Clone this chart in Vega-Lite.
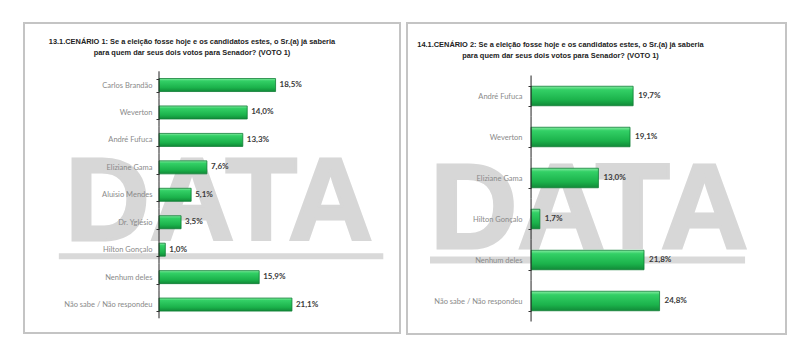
{
  "$schema": "https://vega.github.io/schema/vega-lite/v6.json",
  "padding": {"left": 23, "top": 18, "right": 0, "bottom": 0},
  "background": "white",
  "spacing": 5,
  "config": {
    "locale": {"number": {"decimal": ",", "thousands": ".", "grouping": [3], "currency": ["R$", ""]}},
    "view": {"stroke": "#c4c4c4", "strokeWidth": 2},
    "title": {"font": "Liberation Sans", "fontSize": 7.4, "fontWeight": "bold", "color": "#222222", "lineHeight": 11}
  },
  "datasets": {
    "c1": [
      {"candidato": "Carlos Brandão", "v": 0.185},
      {"candidato": "Weverton", "v": 0.140},
      {"candidato": "André Fufuca", "v": 0.133},
      {"candidato": "Eliziane Gama", "v": 0.076},
      {"candidato": "Aluisio Mendes", "v": 0.051},
      {"candidato": "Dr. Yglésio", "v": 0.035},
      {"candidato": "Hilton Gonçalo", "v": 0.010},
      {"candidato": "Nenhum deles", "v": 0.159},
      {"candidato": "Não sabe / Não respondeu", "v": 0.211}
    ],
    "c2": [
      {"candidato": "André Fufuca", "v": 0.197},
      {"candidato": "Weverton", "v": 0.191},
      {"candidato": "Eliziane Gama", "v": 0.130},
      {"candidato": "Hilton Gonçalo", "v": 0.017},
      {"candidato": "Nenhum deles", "v": 0.218},
      {"candidato": "Não sabe / Não respondeu", "v": 0.248}
    ]
  },
  "hconcat": [
    {
      "width": 376,
      "height": 310,
      "title": {
        "text": ["13.1.CENÁRIO 1: Se a eleição fosse hoje e os candidatos estes, o Sr.(a) já saberia", "para quem dar seus dois votos para Senador? (VOTO 1)"],
        "anchor": "middle", "dx": -20, "offset": -45, "baseline": "bottom"
      },
      "data": {"name": "c1"},
      "encoding": {
        "y": {
          "field": "candidato", "type": "nominal", "sort": null, "title": null,
          "scale": {"domain": ["Carlos Brandão", "Weverton", "André Fufuca", "Eliziane Gama", "Aluisio Mendes", "Dr. Yglésio", "Hilton Gonçalo", "Nenhum deles", "Não sabe / Não respondeu"], "range": [48.3, 295.3], "paddingInner": 0.526, "paddingOuter": 0.263},
          "axis": {"offset": -135, "tickBand": "extent", "domain": false, "ticks": true, "tickSize": 3, "tickColor": "#333333", "tickWidth": 1, "labelPadding": 4, "labelFont": "Lato", "labelFontSize": 7.5, "labelColor": "#8a8a8a", "labelLimit": 200, "zindex": 1, "grid": false}
        }
      },
      "layer": [
        {
          "transform": [{"filter": "datum.candidato === 'Hilton Gonçalo'"}],
          "mark": {"type": "text", "text": "DATA", "font": "Liberation Sans", "fontWeight": "bold", "fontSize": 117, "color": "#d7d7d7", "stroke": "#d7d7d7", "strokeWidth": 3, "align": "center", "baseline": "alphabetic", "dy": -9.5},
          "encoding": {
            "x": {"datum": 0.0952, "type": "quantitative", "axis": null, "scale": {"domain": [-0.2143, 0.3825], "nice": false, "zero": false}}
          }
        },
        {
          "transform": [{"filter": "datum.candidato === 'Hilton Gonçalo'"}],
          "mark": {"type": "rule", "color": "#d9d9d9", "strokeWidth": 6, "yOffset": 6.5},
          "encoding": {
            "x": {"datum": -0.159, "type": "quantitative", "axis": null},
            "x2": {"datum": 0.356}
          }
        },
        {
          "mark": {
            "type": "bar", "stroke": "#0f7d35", "strokeWidth": 0.8,
            "color": {"gradient": "linear", "x1": 0, "y1": 0, "x2": 0, "y2": 1,
              "stops": [{"offset": 0, "color": "#86eba2"}, {"offset": 0.18, "color": "#33d066"}, {"offset": 0.7, "color": "#1bb24b"}, {"offset": 1, "color": "#118a38"}]}
          },
          "encoding": {
            "x": {"field": "v", "type": "quantitative", "axis": null}
          }
        },
        {
          "mark": {"type": "rule", "color": "#222222", "strokeWidth": 1, "yOffset": -13.72, "y2Offset": 13.72},
          "encoding": {
            "x": {"datum": 0, "type": "quantitative", "axis": null},
            "y2": {"field": "candidato"}
          }
        },
        {
          "mark": {"type": "text", "align": "left", "baseline": "middle", "dx": 4, "font": "Lato", "fontWeight": "bold", "fontSize": 8, "color": "#3a3a3a"},
          "encoding": {
            "x": {"field": "v", "type": "quantitative", "axis": null},
            "text": {"field": "v", "type": "quantitative", "format": ".1%"}
          }
        }
      ]
    },
    {
      "width": 379,
      "height": 311,
      "title": {
        "text": ["14.1.CENÁRIO 2: Se a eleição fosse hoje e os candidatos estes, o Sr.(a) já saberia", "para quem dar seus dois votos para Senador? (VOTO 1)"],
        "anchor": "middle", "dx": -36, "offset": -48, "baseline": "bottom"
      },
      "data": {"name": "c2"},
      "encoding": {
        "y": {
          "field": "candidato", "type": "nominal", "sort": null, "title": null,
          "scale": {"domain": ["André Fufuca", "Weverton", "Eliziane Gama", "Hilton Gonçalo", "Nenhum deles", "Não sabe / Não respondeu"], "range": [52.5, 298.5], "paddingInner": 0.524, "paddingOuter": 0.262},
          "axis": {"offset": -124, "tickBand": "extent", "domain": false, "ticks": true, "tickSize": 3, "tickColor": "#333333", "tickWidth": 1, "labelPadding": 6, "labelFont": "Lato", "labelFontSize": 7.5, "labelColor": "#8a8a8a", "labelLimit": 200, "zindex": 1, "grid": false}
        }
      },
      "layer": [
        {
          "transform": [{"filter": "datum.candidato === 'Nenhum deles'"}],
          "mark": {"type": "text", "text": "DATA", "font": "Liberation Sans", "fontWeight": "bold", "fontSize": 121, "color": "#d7d7d7", "stroke": "#d7d7d7", "strokeWidth": 3, "align": "center", "baseline": "alphabetic", "dy": -12},
          "encoding": {
            "x": {"datum": 0.112, "type": "quantitative", "axis": null, "scale": {"domain": [-0.2394, 0.492], "nice": false, "zero": false}}
          }
        },
        {
          "transform": [{"filter": "datum.candidato === 'Nenhum deles'"}],
          "mark": {"type": "rule", "color": "#d9d9d9", "strokeWidth": 7},
          "encoding": {
            "x": {"datum": -0.195, "type": "quantitative", "axis": null},
            "x2": {"datum": 0.413}
          }
        },
        {
          "mark": {
            "type": "bar", "stroke": "#0f7d35", "strokeWidth": 0.8,
            "color": {"gradient": "linear", "x1": 0, "y1": 0, "x2": 0, "y2": 1,
              "stops": [{"offset": 0, "color": "#86eba2"}, {"offset": 0.18, "color": "#33d066"}, {"offset": 0.7, "color": "#1bb24b"}, {"offset": 1, "color": "#118a38"}]}
          },
          "encoding": {
            "x": {"field": "v", "type": "quantitative", "axis": null}
          }
        },
        {
          "mark": {"type": "rule", "color": "#222222", "strokeWidth": 1, "yOffset": -20.5, "y2Offset": 20.5},
          "encoding": {
            "x": {"datum": 0, "type": "quantitative", "axis": null},
            "y2": {"field": "candidato"}
          }
        },
        {
          "mark": {"type": "text", "align": "left", "baseline": "middle", "dx": 5, "font": "Lato", "fontWeight": "bold", "fontSize": 8, "color": "#3a3a3a"},
          "encoding": {
            "x": {"field": "v", "type": "quantitative", "axis": null},
            "text": {"field": "v", "type": "quantitative", "format": ".1%"}
          }
        }
      ]
    }
  ]
}
